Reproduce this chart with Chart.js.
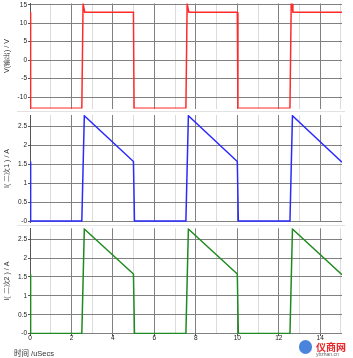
<!DOCTYPE html>
<html>
<head>
<meta charset="utf-8">
<script src="https://cdn.jsdelivr.net/npm/chart.js@4.4.0/dist/chart.umd.min.js"></script>
<style>
  body { margin: 0; background: #fff; }
  #wrap { position: relative; width: 353px; height: 358px; overflow: hidden;
          font-family: "Liberation Sans", Arial, "Noto Sans CJK SC", sans-serif; }
  .pane { position: absolute; left: 0; width: 353px; }
  .sep { position: absolute; left: 17px; width: 328px; height: 1px; background: #e2e2e2; }
</style>
</head>
<body>
<div id="wrap">
  <div class="pane" style="top:0;height:111px"><canvas id="volt"></canvas></div>
  <div class="sep" style="top:111px"></div>
  <div class="pane" style="top:111px;height:114px"><canvas id="cur1"></canvas></div>
  <div class="sep" style="top:225px"></div>
  <div class="pane" style="top:225px;height:133px"><canvas id="cur2"></canvas></div>
  <div style="position:absolute;left:14px;top:347px;font-size:7.5px;color:#333">时间 /uSecs</div>
  <div style="position:absolute;left:299px;top:340px;width:13px;height:14px;border-radius:7px;background:#2a6fd6;opacity:0.85"></div>
  <div style="position:absolute;left:316px;top:339px;font-size:10px;font-weight:bold;color:#e8262b">仪商网</div>
  <div style="position:absolute;left:316px;top:351px;font-size:5px;color:#666">ybzhan.cn</div>
</div>
<script>
// time axis in uSecs
var xGrid = [0, 1, 2, 3, 4, 5, 6, 7, 8, 9, 10, 11, 12, 13, 14, 15];

// output voltage
var vTime = [0, 0.03, 2.5, 2.56, 2.6, 2.64, 4.99, 5.02, 7.52, 7.58, 7.62, 7.66, 10.0, 10.03, 12.54, 12.6, 12.64, 12.68, 15.05];
var vVal = [13, -13, -13, 15.3, 15.3, 13, 13, -13, -13, 15.3, 15.3, 13, 13, -13, -13, 15.3, 15.3, 13, 13];
var vTicks = [-10, -5, 0, 5, 10, 15];
var vLabels = ["-10", "-5", "0", "5", "10", "15"];

// secondary currents
var iTime = [0, 0.03, 2.5, 2.62, 4.99, 5.04, 7.52, 7.64, 10.0, 10.05, 12.54, 12.66, 15.05];
var i1Val = [1.57, 0, 0, 2.78, 1.57, 0, 0, 2.78, 1.57, 0, 0, 2.78, 1.55];
var i2Val = [1.57, 0, 0, 2.77, 1.58, 0, 0, 2.77, 1.58, 0, 0, 2.77, 1.56];
var iTicks = [0, 0.5, 1, 1.5, 2, 2.5];
var iLabels = ["-0", "0.5", "1", "1.5", "2", "2.5"];

function panel(id, xs, ys, color, yMin, yMax, yTicks, yLabels, yTitle, padTop, padBottom, showX) {
  var pts = xs.map(function (t, i) { return { x: t, y: ys[i] }; });
  return new Chart(document.getElementById(id), {
    type: "line",
    data: { datasets: [{ data: pts, borderColor: color, borderWidth: 1.5, pointRadius: 0, tension: 0 }] },
    options: {
      responsive: true,
      maintainAspectRatio: false,
      animation: false,
      layout: { padding: { left: 0, right: 11, top: padTop, bottom: padBottom } },
      plugins: { legend: { display: false }, tooltip: { enabled: false } },
      scales: {
        x: {
          type: "linear",
          min: 0,
          max: 15.05,
          afterBuildTicks: function (s) { s.ticks = xGrid.map(function (v) { return { value: v }; }); },
          afterFit: function (s) { s.height = showX ? 8 : 0; s.paddingLeft = 0; s.paddingRight = 0; },
          border: { display: false },
          grid: {
            color: function (c) { return c.tick && c.tick.value % 2 === 0 ? "#808080" : "#dcdcdc"; },
            drawTicks: showX,
            tickLength: 2,
            tickColor: function (c) { return c.tick && c.tick.value % 2 === 0 ? "#555" : "rgba(0,0,0,0)"; }
          },
          ticks: {
            display: showX,
            autoSkip: false,
            maxRotation: 0,
            padding: -2,
            color: "#222",
            font: { size: 6.5 },
            callback: function (v) { return v % 2 === 0 ? String(v) : ""; }
          }
        },
        y: {
          min: yMin,
          max: yMax,
          afterBuildTicks: function (s) { s.ticks = yTicks.map(function (v) { return { value: v }; }); },
          afterFit: function (s) { s.width = 30; s.paddingTop = 0; s.paddingBottom = 0; },
          border: { display: true, color: "#555" },
          grid: { color: "#808080", tickLength: 2, tickColor: "#555" },
          ticks: {
            padding: 1,
            color: "#222",
            font: { size: 6.5 },
            callback: function (v, i) { return yLabels[i]; }
          },
          title: { display: true, text: yTitle, color: "#333", font: { size: 7 }, padding: { top: 3, bottom: 0 } }
        }
      }
    }
  });
}

panel("volt", vTime, vVal, "#ff2a2a", -13.1, 15.35, vTicks, vLabels, "V(输出) / V", 3.5, 2.5, false);
panel("cur1", iTime, i1Val, "#2a2aff", -0.026, 2.8, iTicks, iLabels, "I( 二次1 ) / A", 4, 3, false);
panel("cur2", iTime, i2Val, "#1f8a1f", -0.01, 2.79, iTicks, iLabels, "I( 二次2 ) / A", 3.3, 16, true);
</script>
</body>
</html>
